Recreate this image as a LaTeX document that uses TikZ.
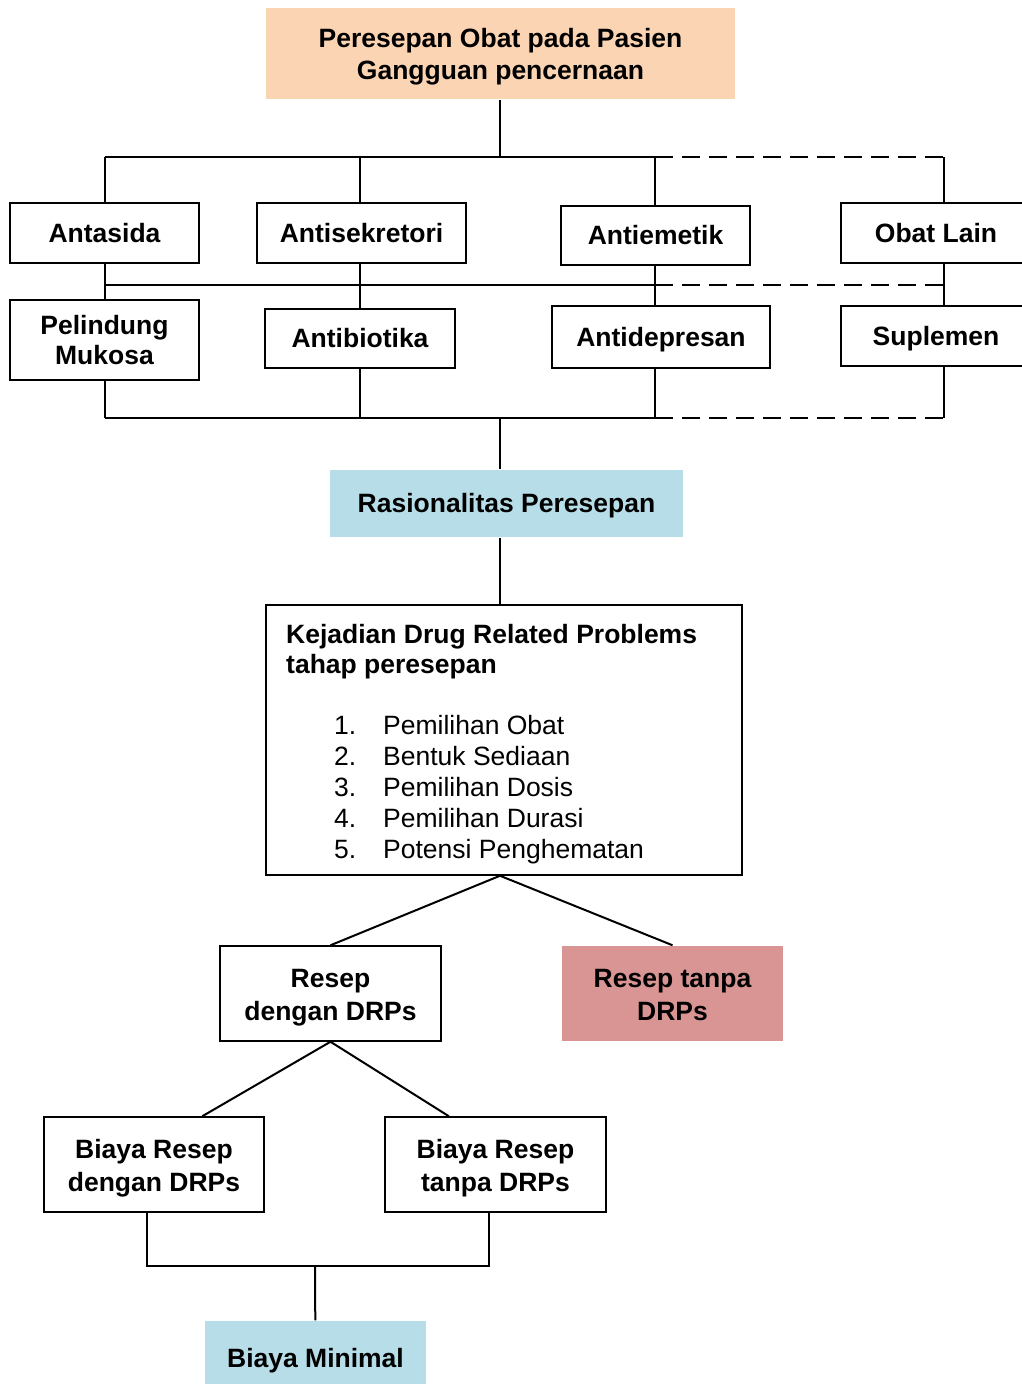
\documentclass[tikz,border=0pt]{standalone}
\usepackage{fontspec}
\setmainfont{Liberation Sans}
\usepackage{tikz}

\definecolor{peach}{RGB}{251,212,180}
\definecolor{birumuda}{RGB}{183,222,232}
\definecolor{merahmuda}{RGB}{217,149,148}

\newcommand{\tiang}{\rule[-0.212em]{0pt}{1.117em}}

\begin{document}
\begin{tikzpicture}[x=1pt,y=-1pt]

\tikzset{kotak/.style = {shape=rectangle,draw,line width=1.5pt,align=center,inner sep=0pt,
  font=\fontsize{26.5}{33}\selectfont\bfseries,
  execute at begin node=\tiang,execute at end node=\tiang}}
\tikzset{isi/.style = {kotak,draw=none}}
\tikzset{dua/.style = {text height=#1,text depth=0pt}, dua/.default=54pt}
\tikzset{garis/.style = {line width=2pt}}
\tikzset{putus/.style = {garis,dash pattern=on 18pt off 9pt}}

\useasboundingbox (0,0) rectangle (1022,1384);

% nodes
\node[isi,dua=52pt,fill=peach,minimum width=469pt,minimum height=91pt,font=\fontsize{26.5}{32}\selectfont\bfseries] (judul) at (500.5,53.5) {Peresepan Obat pada Pasien\\Gangguan pencernaan};

\node[kotak,minimum width=189pt,minimum height=60pt] (antasida) at (104.5,233) {Antasida};
\node[kotak,minimum width=209pt,minimum height=60pt] (antisek) at (361.5,233) {Antisekretori};
\node[kotak,minimum width=189pt,minimum height=59pt] (antiemetik) at (655.5,235.5) {Antiemetik};
\node[kotak,minimum width=190pt,minimum height=60pt] (obatlain) at (936,233) {Obat Lain};

\node[kotak,dua=49pt,minimum width=189pt,minimum height=80pt,font=\fontsize{26.5}{30}\selectfont\bfseries] (pelindung) at (104.5,340) {Pelindung\\Mukosa};
\node[kotak,minimum width=190pt,minimum height=59pt] (antibiotika) at (360,338.5) {Antibiotika};
\node[kotak,minimum width=218pt,minimum height=62pt] (antidepresan) at (661,337) {Antidepresan};
\node[kotak,minimum width=190pt,minimum height=60pt] (suplemen) at (936,336) {Suplemen};

\node[isi,fill=birumuda,minimum width=353pt,minimum height=67pt] (rasional) at (506.5,503.5) {Rasionalitas Peresepan};

\node[kotak,minimum width=476pt,minimum height=270pt,execute at begin node={},execute at end node={}] (kejadian) at (504,740) {};
\node[anchor=north west,align=left,inner sep=0pt,font=\fontsize{26.5}{31}\selectfont] (kejadianteks) at (286,624)
  {\textbf{Kejadian Drug Related Problems}\\[-1pt]
   \textbf{tahap peresepan}\\[30pt]
   \hspace*{48pt}\makebox[49pt][l]{1.}Pemilihan Obat\\
   \hspace*{48pt}\makebox[49pt][l]{2.}Bentuk Sediaan\\
   \hspace*{48pt}\makebox[49pt][l]{3.}Pemilihan Dosis\\
   \hspace*{48pt}\makebox[49pt][l]{4.}Pemilihan Durasi\\
   \hspace*{48pt}\makebox[49pt][l]{5.}Potensi Penghematan};

\node[kotak,dua,minimum width=221pt,minimum height=95pt] (resepdrp) at (330.5,993.5) {Resep\\dengan DRPs};
\node[isi,dua,fill=merahmuda,minimum width=221pt,minimum height=95pt] (reseptanpa) at (672.5,993.5) {Resep tanpa\\DRPs};

\node[kotak,dua,minimum width=220pt,minimum height=95pt] (biayadrp) at (154,1164.5) {Biaya Resep\\dengan DRPs};
\node[kotak,dua,minimum width=221pt,minimum height=95pt] (biayatanpa) at (495.5,1164.5) {Biaya Resep\\tanpa DRPs};

\node[isi,fill=birumuda,minimum width=221pt,minimum height=74pt] (minimal) at (315.5,1358) {Biaya Minimal};

% junctions
\coordinate (atas) at (500,157);
\coordinate (bawah) at (500,418);
\coordinate (a1) at (105,157);
\coordinate (a2) at (360,157);
\coordinate (a3) at (655,157);
\coordinate (a4) at (944,157);
\coordinate (t1) at (105,285);
\coordinate (t3) at (655,285);
\coordinate (t4) at (944,285);
\coordinate (b1) at (105,418);
\coordinate (b2) at (360,418);
\coordinate (b3) at (655,418);
\coordinate (b4) at (944,418);
\coordinate (ki) at (147,1266);
\coordinate (ka) at (489,1266);
\coordinate (gabung) at (315,1266);

%edges
\draw[garis] (atas |- judul.south) -- (atas);
\draw[garis] (a1) -- (a3);
\draw[putus] (a3) -- (a4);
\draw[garis] (t1) -- (t3);
\draw[putus] (t3) -- (t4);
\draw[garis] (b1) -- (b3);
\draw[putus] (b3) -- (b4);

\draw[garis] (a1) -- (a1 |- antasida.north);
\draw[garis] (a2) -- (a2 |- antisek.north);
\draw[garis] (a3) -- (a3 |- antiemetik.north);
\draw[garis] (a4) -- (a4 |- obatlain.north);

\draw[garis] (a1 |- antasida.south) -- (a1 |- pelindung.north);
\draw[garis] (a2 |- antisek.south) -- (a2 |- antibiotika.north);
\draw[garis] (a3 |- antiemetik.south) -- (a3 |- antidepresan.north);
\draw[garis] (a4 |- obatlain.south) -- (a4 |- suplemen.north);

\draw[garis] (a1 |- pelindung.south) -- (b1);
\draw[garis] (a2 |- antibiotika.south) -- (b2);
\draw[garis] (a3 |- antidepresan.south) -- (b3);
\draw[garis] (a4 |- suplemen.south) -- (b4);

\draw[garis] (bawah) -- (bawah |- rasional.north);
\draw[garis] (bawah |- rasional.south) -- (bawah |- kejadian.north);

\draw[garis] (resepdrp.north) -- (bawah |- kejadian.south) -- (reseptanpa.north);
\draw[garis] (biayadrp.45) -- (resepdrp.south) -- (biayatanpa.134);

\draw[garis] (ki |- biayadrp.south) -- (ki) -- (ka) -- (ka |- biayatanpa.south);
\draw[garis] (gabung) -- (minimal);
\end{tikzpicture}
\end{document}
